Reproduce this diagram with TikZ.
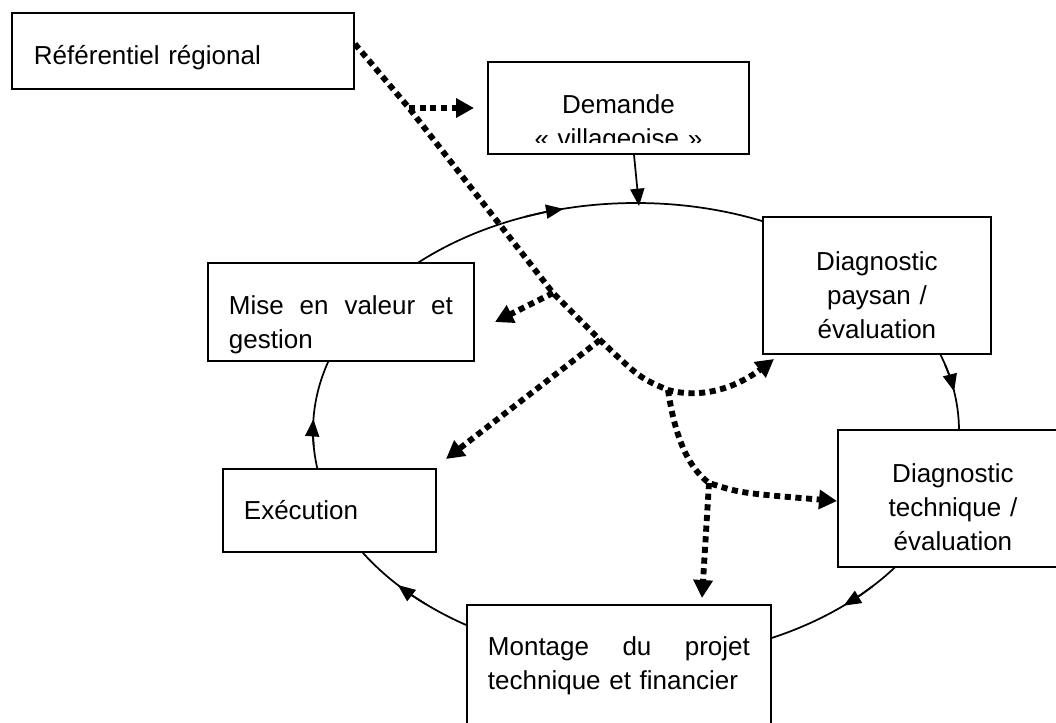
\documentclass[tikz,border=0pt]{standalone}
\usepackage{fontspec}
\setmainfont{Liberation Sans}
\usetikzlibrary{arrows.meta,backgrounds,calc}
\tikzset{
  stage/.style={draw, line width=1.4pt, fill=white, anchor=north west, inner ysep=0pt,
    font=\fontsize{19.5pt}{25.5pt}\selectfont},
  flow/.style={line width=1.3pt, -{Triangle[length=13pt,width=10.5pt]}},
  feed/.style={line width=4.4pt, dash pattern=on 4.6pt off 3.4pt,
    -{Triangle[length=13.5pt,width=14pt]}}
}
\begin{document}
\begin{tikzpicture}[x=0.75pt,y=-0.75pt]
  \useasboundingbox (0,0) rectangle (1056,722);
  % the boxes
  \node[stage, text width=223.5pt, inner xsep=16.5pt, align=left,
    text height=39pt, text depth=18pt] (ref) at (11,12) {Référentiel régional};
  \begin{scope}
    \clip (480,55) rectangle (760,142);
    \node[stage, draw=none, text width=179.25pt, inner xsep=7.5pt, align=center,
      text height=38.25pt, text depth=29.25pt] (demande) at (488,62)
      {Demande\\«~villageoise~»};
  \end{scope}
  \draw[line width=1.4pt] (demande.north west) rectangle (demande.south east);
  \node[stage, text width=156pt, inner xsep=7.5pt, align=center,
    text height=40.5pt, text depth=62.25pt] (paysan) at (762,216)
    {Diagnostic\\paysan /\\évaluation};
  \node[stage, text width=157.5pt, inner xsep=7.5pt, align=center,
    text height=39.75pt, text depth=63pt] (tech) at (837,429)
    {Diagnostic\\technique /\\évaluation};
  \node[stage, text width=196.5pt, inner xsep=15.75pt, align=left,
    text height=38.25pt, text depth=78.75pt] (montage) at (466,604)
    {Montage\hfill du\hfill projet\\technique et financier};
  \node[stage, text width=128.25pt, inner xsep=15.75pt, align=left,
    text height=38.25pt, text depth=24pt] (exec) at (222,468) {Exécution};
  \node[stage, text width=168pt, inner xsep=15.75pt, align=left,
    text height=39pt, text depth=34.5pt] (mise) at (207,262)
    {Mise\hfill en\hfill valeur\hfill et\\gestion};

  % the cycle
  \coordinate (cycle) at (636,431);
  \begin{scope}[on background layer]
    \draw[line width=1.3pt] (cycle) ellipse [x radius=323, y radius=228];
  \end{scope}
  \foreach \t in {257,350,50,137.5,183}
    \draw[flow] ($(cycle)+(\t-7:323 and 228)$)
      arc[start angle=\t-7, end angle=\t, x radius=323, y radius=228];
  \coordinate (top in) at (639,206);
  \draw[flow] ([xshift=11.6pt]demande.south) -- (top in);

  % the regional frame
  \coordinate (j1) at (409,108);
  \coordinate (j2) at (553,293);
  \coordinate (j3) at (600,340);
  \coordinate (j4) at (668,390);
  \coordinate (j5) at (709,483);
  \coordinate (demande in) at (474,108);
  \coordinate (mise in) at (495,322);
  \coordinate (exec in) at (446,459);
  \coordinate (paysan in) at (774,359);
  \coordinate (tech in) at (837,501);
  \coordinate (montage in) at (702,598);
  \draw[feed] ($(ref.north east)!0.41!(ref.south east)$) -- (j1) -- (j2) -- (j3)
    .. controls (640,378) .. (j4) .. controls (705,400) and (740,385) .. (paysan in);
  \draw[feed] (j1) -- (demande in);
  \draw[feed] (j2) -- (mise in);
  \draw[feed] (j3) -- (exec in);
  \draw[feed] (j4) .. controls (674,430) and (685,465) .. (j5)
    .. controls (740,493) .. (tech in);
  \draw[feed] (j5) -- (montage in);
\end{tikzpicture}
\end{document}
